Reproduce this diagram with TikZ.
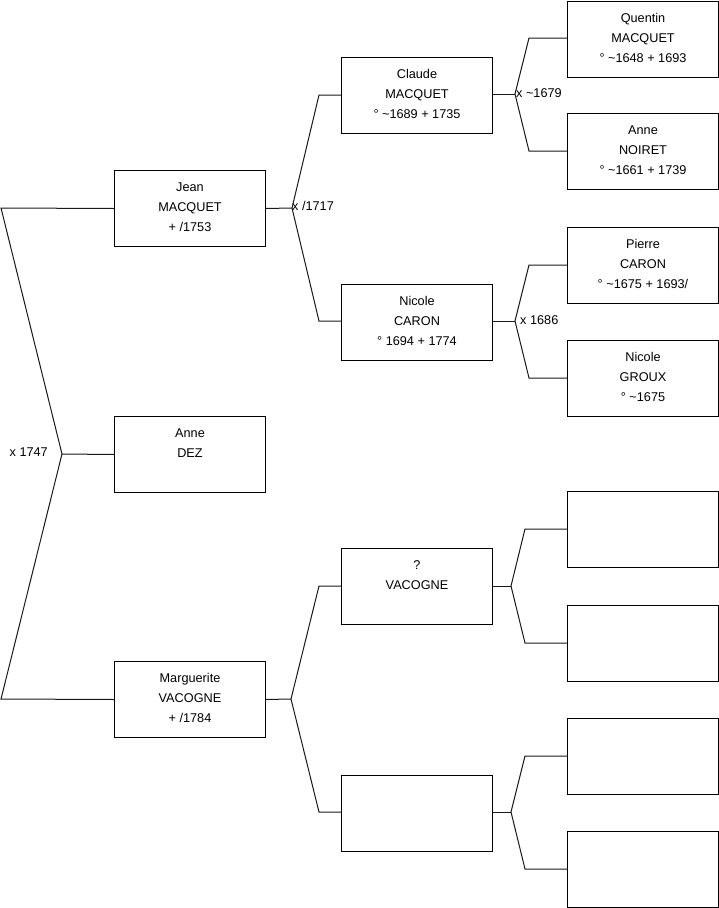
\documentclass[tikz,border=0pt]{standalone}
\usepackage{fontspec}
\setmainfont{Liberation Sans}
\newcommand{\pbox}[1]{\parbox[c][76pt][t]{151pt}{\centering\fontsize{12.7}{20}\selectfont\rule{0pt}{21pt}#1}}
\begin{document}
\begin{tikzpicture}[x=1pt,y=-1pt,
  box/.style={draw=black, inner sep=0pt, anchor=north west, line width=1pt},
  conn/.style={draw=black!90, line width=1pt},
  lbl/.style={inner sep=0pt, font=\fontsize{12.7}{15}\selectfont}]
\useasboundingbox (0,0) rectangle (719,908);
% column 1
\node[box] (jean)   at (114,170) {\pbox{Jean\\MACQUET\\+ /1753}};
\node[box] (anne)   at (114,416) {\pbox{Anne\\DEZ}};
\node[box] (marg)   at (114,661) {\pbox{Marguerite\\VACOGNE\\+ /1784}};
% column 2
\node[box] (claude) at (341,57)  {\pbox{Claude\\MACQUET\\° \textasciitilde1689 + 1735}};
\node[box] (nicole) at (341,284) {\pbox{Nicole\\CARON\\° 1694 + 1774}};
\node[box] (vac)    at (341,548) {\pbox{?\\VACOGNE}};
\node[box] (unk)    at (341,775) {\pbox{}};
% column 3
\node[box] (quentin) at (567,0.5) {\pbox{Quentin\\MACQUET\\° \textasciitilde1648 + 1693}};
\node[box] (noiret)  at (567,113) {\pbox{Anne\\NOIRET\\° \textasciitilde1661 + 1739}};
\node[box] (pierre)  at (567,227) {\pbox{Pierre\\CARON\\° \textasciitilde1675 + 1693/}};
\node[box] (groux)   at (567,340) {\pbox{Nicole\\GROUX\\° \textasciitilde1675}};
\node[box] (e1) at (567,491) {\pbox{}};
\node[box] (e2) at (567,605) {\pbox{}};
\node[box] (e3) at (567,718) {\pbox{}};
\node[box] (e4) at (567,831) {\pbox{}};
% coordinates
\coordinate (a0) at (1,208);
\coordinate (j0) at (62,454);
\coordinate (b0) at (1,699);
\coordinate (j1) at (292,208);
\coordinate (a1) at (319,95);
\coordinate (b1) at (319,321);
\coordinate (j2) at (291,699);
\coordinate (a2) at (319,586);
\coordinate (b2) at (319,812);
\coordinate (j3) at (515,94);
\coordinate (a3) at (529,38);
\coordinate (b3) at (529,151);
\coordinate (j4) at (515,321);
\coordinate (a4) at (529,265);
\coordinate (b4) at (529,378);
\coordinate (j5) at (511,586);
\coordinate (a5) at (525,529);
\coordinate (b5) at (525,643);
\coordinate (j6) at (511,812);
\coordinate (a6) at (525,756);
\coordinate (b6) at (525,869);
% connectors
\draw[conn] (jean.west) -- (a0) -- (j0) -- (b0) -- (marg.west);
\draw[conn] (j0) -- (anne.west);
\draw[conn] (jean.east) -- (j1);
\draw[conn] (claude.west |- a1) -- (a1) -- (j1) -- (b1) -- (nicole.west |- b1);
\draw[conn] (marg.east) -- (j2);
\draw[conn] (vac.west |- a2) -- (a2) -- (j2) -- (b2) -- (unk.west |- b2);
\draw[conn] (claude.east |- j3) -- (j3);
\draw[conn] (quentin.west |- a3) -- (a3) -- (j3) -- (b3) -- (noiret.west |- b3);
\draw[conn] (nicole.east |- j4) -- (j4);
\draw[conn] (pierre.west |- a4) -- (a4) -- (j4) -- (b4) -- (groux.west |- b4);
\draw[conn] (vac.east |- j5) -- (j5);
\draw[conn] (e1.west |- a5) -- (a5) -- (j5) -- (b5) -- (e2.west |- b5);
\draw[conn] (unk.east |- j6) -- (j6);
\draw[conn] (e3.west |- a6) -- (a6) -- (j6) -- (b6) -- (e4.west |- b6);
% marriage labels
\node[lbl, anchor=base east] (m0) at (48,456.5) {x 1747};
\node[lbl, anchor=base west] (m1) at (292,210.5) {x /1717};
\node[lbl, anchor=base west] (m3) at (516,97.5) {x \textasciitilde1679};
\node[lbl, anchor=base west] (m4) at (520,324.5) {x 1686};
\end{tikzpicture}
\end{document}
